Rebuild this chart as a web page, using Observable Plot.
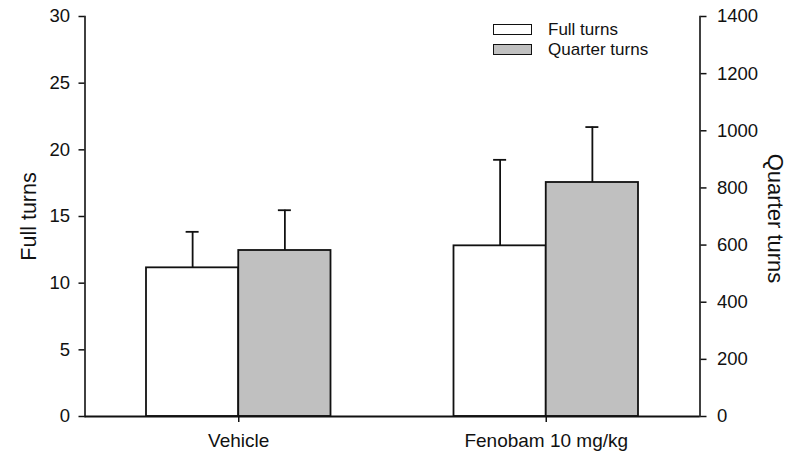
<!DOCTYPE html>
<html>
<head>
<meta charset="utf-8">
<script src="https://cdn.jsdelivr.net/npm/d3@7"></script>
<script src="https://cdn.jsdelivr.net/npm/@observablehq/plot@0.6"></script>
<style>
  html, body { margin: 0; padding: 0; background: #fff; }
  #wrap { position: relative; width: 788px; height: 457px; font-family: "Liberation Sans", Arial, sans-serif; color: #111; }
  .legend { position: absolute; left: 493px; top: 20px; font-size: 17px; line-height: 17px; }
  .legend .row { display: flex; align-items: center; height: 19.5px; }
  .legend .box { width: 37px; height: 9px; border: 1.6px solid #111; margin-right: 16px; flex: none; }
</style>
</head>
<body>
<div id="wrap">
  <div class="legend">
    <div class="row"><span class="box" style="background:#ffffff"></span><span>Full turns</span></div>
    <div class="row"><span class="box" style="background:#c0c0c0"></span><span>Quarter turns</span></div>
  </div>
</div>
<script>
// ---- data ----
const groups = ["Vehicle", "Fenobam 10 mg/kg"];
const fullMean = [11.15, 12.8];
const fullSem = [2.7, 6.45];
const quarterMean = [581, 819];
const quarterSem = [141, 194];
const fullTicks = [0, 5, 10, 15, 20, 25, 30];
const quarterTicks = [0, 200, 400, 600, 800, 1000, 1200, 1400];
const fullMax = 30;
const quarterMax = 1400;

// ---- layout ----
const W = 788, H = 457;
const mL = 84.5, mR = 88.5, mT = 16, mB = 41;
const k = fullMax / quarterMax; // quarter -> left-axis units

const xOpts = {type: "band", domain: groups, paddingInner: 0.4, paddingOuter: 0.2, round: false};
const xs = Plot.scale({x: {...xOpts, range: [mL, W - mR]}});
const bw = xs.bandwidth;
const capW = 13;
const capInset = (bw - capW) / 2;

const full = groups.map((g, i) => ({group: g, value: fullMean[i], top: fullMean[i] + fullSem[i]}));
const quarter = groups.map((g, i) => ({group: g, value: quarterMean[i] * k, top: (quarterMean[i] + quarterSem[i]) * k}));

const ink = "#111";
const sw = 1.8;

const chart = Plot.plot({
  width: W, height: H,
  marginLeft: mL, marginRight: mR, marginTop: mT, marginBottom: mB,
  x: xOpts,
  y: {domain: [0, fullMax], label: null},
  style: {fontFamily: '"Liberation Sans", Arial, sans-serif', fontSize: "18.5px", color: ink, background: "#fff", overflow: "visible"},
  marks: [
    Plot.ruleX(full, {x: "group", y1: "value", y2: "top", dx: -bw / 4, stroke: ink, strokeWidth: sw}),
    Plot.tickY(full, {x: "group", y: "top", dx: -bw / 4, insetLeft: capInset, insetRight: capInset, stroke: ink, strokeWidth: sw}),
    Plot.ruleX(quarter, {x: "group", y1: "value", y2: "top", dx: bw / 4, stroke: ink, strokeWidth: sw}),
    Plot.tickY(quarter, {x: "group", y: "top", dx: bw / 4, insetLeft: capInset, insetRight: capInset, stroke: ink, strokeWidth: sw}),
    Plot.barY(full, {x: "group", y: "value", insetLeft: 0, insetRight: bw / 2, fill: "#ffffff", stroke: ink, strokeWidth: sw}),
    Plot.barY(quarter, {x: "group", y: "value", insetLeft: bw / 2, insetRight: 0, fill: "#c0c0c0", stroke: ink, strokeWidth: sw}),
    Plot.ruleY([0], {stroke: ink, strokeWidth: sw}),
    Plot.frame({anchor: "left", stroke: ink, strokeWidth: 1.6}),
    Plot.frame({anchor: "right", stroke: ink, strokeWidth: 1.6}),
    Plot.axisY(fullTicks, {anchor: "left", tickSize: 6, tickPadding: 9, fontSize: 18.5, label: null, stroke: ink, strokeWidth: 1.5}),
    Plot.axisY(quarterTicks.map(q => q * k), {anchor: "right", tickSize: 6, tickPadding: 11, fontSize: 18.5, label: null, stroke: ink, strokeWidth: 1.5, tickFormat: d => String(Math.round(d / k))}),
    Plot.axisX({anchor: "bottom", tickSize: 6, tickPadding: 11, fontSize: 19, label: null, stroke: ink, strokeWidth: 1.5}),
    Plot.text(["Full turns"], {frameAnchor: "left", dx: -56, rotate: -90, fontSize: 21.5, fill: ink, textAnchor: "middle", lineAnchor: "middle"}),
    Plot.text(["Quarter turns"], {frameAnchor: "right", dx: 75, dy: 2, rotate: 90, fontSize: 22, fill: ink, textAnchor: "middle", lineAnchor: "middle"})
  ]
});
document.getElementById("wrap").prepend(chart);
</script>
</body>
</html>
